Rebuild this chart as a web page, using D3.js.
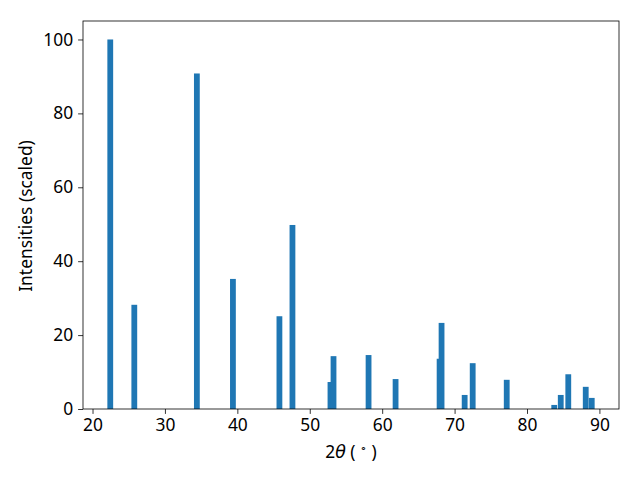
<!DOCTYPE html>
<html><head><meta charset="utf-8">
<script src="https://cdn.jsdelivr.net/npm/d3@7"></script>
<style>body{margin:0;background:#fff}svg{display:block;font-family:"Noto Sans",sans-serif}</style>
</head><body><svg id="c" width="640" height="480"></svg>
<script>
const twoTheta = [22.45, 25.77, 34.41, 39.39, 45.81, 47.61, 52.86, 53.28, 58.12, 61.85, 67.93, 68.2, 71.39, 72.5, 77.2, 83.76, 84.66, 85.7, 88.11, 88.94];
const intensity = [100, 28.2, 90.8, 35.2, 25.1, 49.8, 7.3, 14.3, 14.6, 8.1, 13.6, 23.3, 3.8, 12.4, 7.9, 1.1, 3.8, 9.4, 6.0, 3.0];
const xTicks = [20, 30, 40, 50, 60, 70, 80, 90];
const yTicks = [0, 20, 40, 60, 80, 100];
const barWidth = 0.8;

const L = 83, R = 619, T = 21, B = 409;
const svg = d3.select("#c");
const lo = d3.min(twoTheta) - barWidth/2, hi = d3.max(twoTheta) + barWidth/2;
const pad = (hi - lo) * 0.05;
const x = d3.scaleLinear().domain([lo - pad, hi + pad]).range([L, R]);
const y = d3.scaleLinear().domain([0, d3.max(intensity) * 1.05]).range([B, T]);

svg.append("g").selectAll("rect").data(twoTheta).join("rect")
  .attr("x", d => x(d - barWidth/2))
  .attr("width", d => x(d + barWidth/2) - x(d - barWidth/2))
  .attr("y", (d, i) => y(intensity[i]))
  .attr("height", (d, i) => y(0) - y(intensity[i]))
  .attr("fill", "#1f77b4");

const fs = 17.4;
const xa = svg.append("g").attr("transform", `translate(0,${B})`)
  .call(d3.axisBottom(x).tickValues(xTicks).tickSize(4.9).tickPadding(4.5).tickFormat(d3.format("d")));
const ya = svg.append("g").attr("transform", `translate(${L},0)`)
  .call(d3.axisLeft(y).tickValues(yTicks).tickSize(4.9).tickPadding(4.9).tickFormat(d3.format("d")));
[xa, ya].forEach(a => {
  a.select(".domain").remove();
  a.selectAll("text").attr("font-size", fs).attr("font-family", "Noto Sans").attr("fill", "#000");
  a.selectAll("line").attr("stroke", "#000").attr("stroke-width", 0.8);
});

svg.append("rect").attr("x", L).attr("y", T).attr("width", R - L).attr("height", B - T)
  .attr("fill", "none").attr("stroke", "#000").attr("stroke-width", 0.8);

const xl = svg.append("text").attr("x", (L + R) / 2).attr("y", 458).attr("text-anchor", "middle")
  .attr("font-size", fs).attr("fill", "#000");
xl.append("tspan").text("2");
xl.append("tspan").attr("font-family", "DejaVu Sans").attr("font-style", "italic").text("θ");
xl.append("tspan").text(" ( ");
xl.append("tspan").attr("font-size", 11).attr("dy", -6).text("∘");
xl.append("tspan").attr("dy", 6).text(" )");

svg.append("text").attr("transform", `translate(32,216) rotate(-90)`)
  .attr("text-anchor", "middle").attr("font-size", fs).attr("fill", "#000")
  .text("Intensities (scaled)");
</script></body></html>
